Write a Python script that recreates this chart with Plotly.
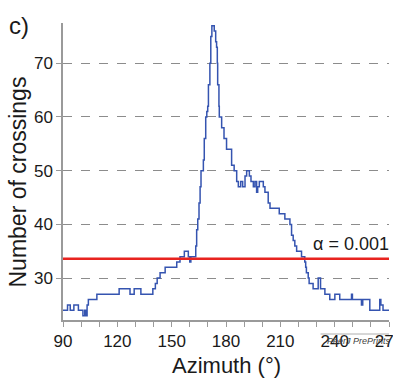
import plotly.graph_objects as go

# Step-change points of the crossing count (azimuth in degrees, count)
azimuth = [90, 92.5, 94, 96, 98.5, 101, 102, 102.7, 103.3, 104, 108.7, 121, 127, 129.3, 133,
           139.6, 141, 142, 143.6, 146.4, 152.8, 154.6, 157, 159.2, 160, 160.6, 163.3, 163.8,
           164.4, 165.1, 165.7, 166.2, 167.5, 168, 168.8, 169.4, 169.9, 170.3, 171.1, 171.6,
           172.2, 173.5, 174.3, 174.8, 175.2, 175.4, 176.1, 176.3, 177.6, 178.9, 180.3, 183.1,
           184.5, 185.9, 186.8, 188.1, 189.2, 190.5, 191.4, 192.9, 193.8, 195.1, 196, 196.9,
           197.5, 198.4, 200.6, 201.5, 203.3, 204.3, 209.4, 212.5, 215.3, 216.2, 217.1, 218,
           219, 221.7, 223.5, 224, 224.4, 225.4, 225.9, 228.1, 230.9, 232.2, 234.6, 237.3,
           240.1, 242.8, 249.3, 249.8, 254.8, 255.5, 259.4, 264.9, 265.5, 266.7, 270]
crossings = [24, 25, 24, 25, 24, 23, 24, 23, 25, 26, 27, 28, 27, 28, 27,
             28, 29, 30, 31, 32, 33, 34, 35, 34, 33, 34, 36, 39,
             41, 44, 47, 50, 52, 56, 60, 61, 62, 66, 70, 75,
             77, 76, 74, 73, 70, 66, 62, 60, 58, 56, 54, 51,
             50, 48, 47, 48, 47, 49, 50, 49, 48, 47, 48, 46,
             47, 48, 47, 46, 44, 43, 42, 41, 40, 38, 37, 36,
             35, 34, 33, 32, 31, 30, 29, 28, 30, 28, 27, 26,
             27, 26, 27, 26, 25, 26, 24, 26, 25, 24, 24]

threshold = 33.6
threshold_label = "α = 0.001"
x_ticks = [90, 120, 150, 180, 210, 240, 270]
y_ticks = [30, 40, 50, 60, 70]

FONT = "Arial, Liberation Sans, sans-serif"
TXT = "#1a1a1a"

fig = go.Figure()
fig.add_trace(go.Scatter(x=azimuth, y=crossings, mode="lines", line_shape="hv",
                         line=dict(color="#3554b0", width=1.5), hoverinfo="skip"))
fig.add_trace(go.Scatter(x=[90, 270], y=[threshold, threshold], mode="lines",
                         line=dict(color="#e8231f", width=2.5), hoverinfo="skip"))

fig.update_layout(
    width=393, height=379, margin=dict(l=63, r=4, t=23, b=59, autoexpand=False),
    paper_bgcolor="white", plot_bgcolor="white", showlegend=False,
    font=dict(family=FONT, color=TXT),
    xaxis=dict(range=[90, 270], tickmode="array", tickvals=list(range(90, 271, 10)),
               ticktext=[str(v) if v in x_ticks else "" for v in range(90, 271, 10)],
               ticklabeloverflow="allow", automargin=False,
               showgrid=False, zeroline=False, showline=True, linecolor="#9a9a9a", linewidth=1.5,
               ticks="outside", ticklen=5, tickcolor="#9a9a9a", tickfont=dict(size=17, color=TXT)),
    yaxis=dict(range=[22.2, 77.5], tickvals=y_ticks, showgrid=True, gridcolor="#8c8c8c",
               griddash="dash", gridwidth=1, zeroline=False, showline=True, linecolor="#9a9a9a",
               linewidth=1.5, ticks="outside", ticklen=5, tickcolor="#9a9a9a", automargin=False,
               tickfont=dict(size=17, color=TXT)),
    annotations=[
        dict(text="Azimuth (°)", xref="paper", yref="paper", x=0.5, y=0, yshift=-45,
             showarrow=False, font=dict(size=22, color=TXT), xanchor="center", yanchor="middle"),
        dict(text="Number of crossings", xref="paper", yref="paper", x=0, y=0.5, xshift=-46,
             yshift=-11, textangle=-90, showarrow=False, font=dict(size=23, color=TXT),
             xanchor="center", yanchor="middle"),
        dict(text="c)", xref="paper", yref="paper", x=0, y=1, xshift=-44, yshift=-2,
             showarrow=False, font=dict(size=24, color=TXT), xanchor="center", yanchor="middle"),
        dict(text=threshold_label, xref="x", yref="y", x=249, y=threshold, yshift=15,
             showarrow=False, font=dict(size=18, color=TXT), xanchor="center", yanchor="middle"),
        dict(text="<i>PeerJ PrePrints</i>", xref="paper", yref="paper", x=1, y=0, yshift=-21,
             xshift=4, showarrow=False, font=dict(size=9, color="#444"), xanchor="right",
             yanchor="middle"),
    ],
    shapes=[dict(type="line", xref="paper", yref="paper", ysizemode="pixel", yanchor=0,
                 x0=0.79, x1=1.0, y0=-14, y1=-14, line=dict(color="#999", width=0.8))],
)

fig.write_html("out.html")
